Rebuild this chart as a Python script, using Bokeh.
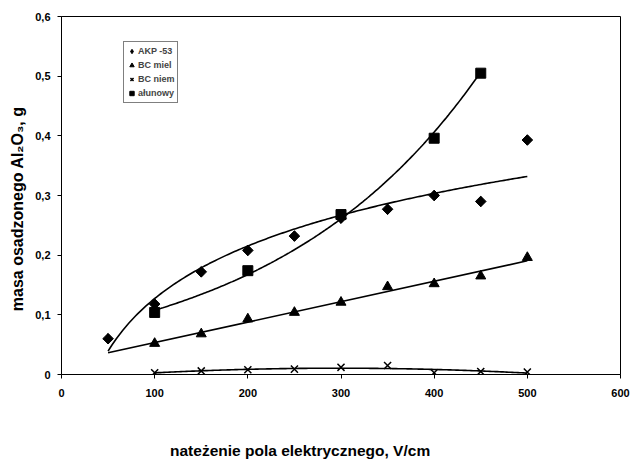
import numpy as np
from bokeh.plotting import figure
from bokeh.models import Range1d, FixedTicker, Legend, LegendItem
from bokeh.embed import file_html
from bokeh.resources import INLINE

# ---- data ----
akp_x = [50, 100, 150, 200, 250, 300, 350, 400, 450, 500]
akp_y = [0.060, 0.118, 0.172, 0.208, 0.232, 0.262, 0.277, 0.300, 0.290, 0.393]

miel_x = [100, 150, 200, 250, 300, 350, 400, 450, 500]
miel_y = [0.052, 0.068, 0.093, 0.104, 0.121, 0.147, 0.152, 0.165, 0.196]

niem_x = [100, 150, 200, 250, 300, 350, 400, 450, 500]
niem_y = [0.003, 0.006, 0.008, 0.009, 0.012, 0.015, 0.003, 0.005, 0.004]

alun_x = [100, 200, 300, 400, 450]
alun_y = [0.104, 0.174, 0.268, 0.396, 0.505]

labels = ["AKP -53", "BC miel", "BC niem", "ałunowy"]
x_ticks = [0, 100, 200, 300, 400, 500, 600]
y_ticks = [0, 0.1, 0.2, 0.3, 0.4, 0.5, 0.6]
y_tick_labels = ["0", "0,1", "0,2", "0,3", "0,4", "0,5", "0,6"]
x_title = "nateżenie pola elektrycznego, V/cm"
y_title = "masa osadzonego Al₂O₃, g"

FONT = "Liberation Sans"
NBSP = "\u00a0"

p = figure(width=631, height=461, output_backend="svg", toolbar_location=None,
           x_range=Range1d(0, 600), y_range=Range1d(0, 0.6),
           min_border_left=61, min_border_right=11, min_border_top=16,
           min_border_bottom=85)
p.background_fill_color = "white"
p.border_fill_color = "white"
p.outline_line_color = "black"
p.outline_line_width = 1
p.xgrid.visible = False
p.ygrid.visible = False

for ax in (p.xaxis[0], p.yaxis[0]):
    ax.axis_line_color = "black"
    ax.major_tick_line_color = "black"
    ax.major_tick_out = 4
    ax.major_tick_in = 0
    ax.minor_tick_line_color = None
    ax.major_label_text_font = FONT
    ax.major_label_text_font_style = "bold"
    ax.major_label_text_font_size = "11px"
    ax.major_label_text_color = "black"
    ax.axis_label_text_font = FONT
    ax.axis_label_text_font_style = "bold"
    ax.axis_label_text_color = "black"

p.xaxis.ticker = FixedTicker(ticks=x_ticks)
p.yaxis.ticker = FixedTicker(ticks=y_ticks)
p.yaxis.major_label_overrides = {t: l for t, l in zip(y_ticks, y_tick_labels)}
p.xaxis.major_label_standoff = 10
p.yaxis.major_label_standoff = 7

# axis titles (trailing no-break spaces shift the visible text off-centre,
# as in the original)
p.yaxis.axis_label = y_title + NBSP * 6
p.yaxis.axis_label_text_font_size = "16px"
p.yaxis.axis_label_standoff = 6

p.xaxis.axis_label = x_title + NBSP * 19
p.xaxis.axis_label_text_font_size = "15.5px"
p.xaxis.axis_label_standoff = 42

# ---- trend lines (fitted from the data) ----
# AKP -53: logarithmic, extended back from 50
a, c = np.polyfit(np.log(akp_x), akp_y, 1)
tx = np.linspace(50, 500, 200)
p.line(tx, a * np.log(tx) + c, line_color="black", line_width=1.6)

# BC miel: linear, forecast back to 50
m, b = np.polyfit(miel_x, miel_y, 1)
tx2 = np.linspace(50, 500, 2)
p.line(tx2, m * tx2 + b, line_color="black", line_width=1.6)

# BC niem: polynomial
cc = np.polyfit(niem_x, niem_y, 2)
tx3 = np.linspace(100, 500, 200)
p.line(tx3, np.polyval(cc, tx3), line_color="black", line_width=1.6)

# ałunowy: exponential
k, la = np.polyfit(alun_x, np.log(alun_y), 1)
tx4 = np.linspace(100, 450, 200)
p.line(tx4, np.exp(la) * np.exp(k * tx4), line_color="black", line_width=1.6)

# ---- markers ----
r1_leg = p.scatter(akp_x, akp_y, marker="diamond", size=10, color="black")
r1 = p.scatter(akp_x, akp_y, marker="square", angle=np.pi / 4, size=7.5, color="black")
r2 = p.scatter(miel_x, miel_y, marker="triangle", size=10, color="black")
r3 = p.scatter(niem_x, niem_y, marker="x", size=10, line_color="black", line_width=1.5)
r4 = p.scatter(alun_x, alun_y, marker="square", size=10, color="black")

legend = Legend(items=[LegendItem(label=labels[0], renderers=[r1_leg]),
                       LegendItem(label=labels[1], renderers=[r2]),
                       LegendItem(label=labels[2], renderers=[r3]),
                       LegendItem(label=labels[3], renderers=[r4])],
                location=(62, 271), orientation="vertical",
                glyph_width=11, glyph_height=14, label_height=14,
                label_standoff=1, spacing=0, padding=2, margin=0,
                label_text_font=FONT, label_text_font_style="bold",
                label_text_font_size="9px",
                border_line_color="black", border_line_width=1,
                background_fill_color="white", background_fill_alpha=1)
p.add_layout(legend, "center")

open("out.html", "w").write(file_html(p, INLINE))
